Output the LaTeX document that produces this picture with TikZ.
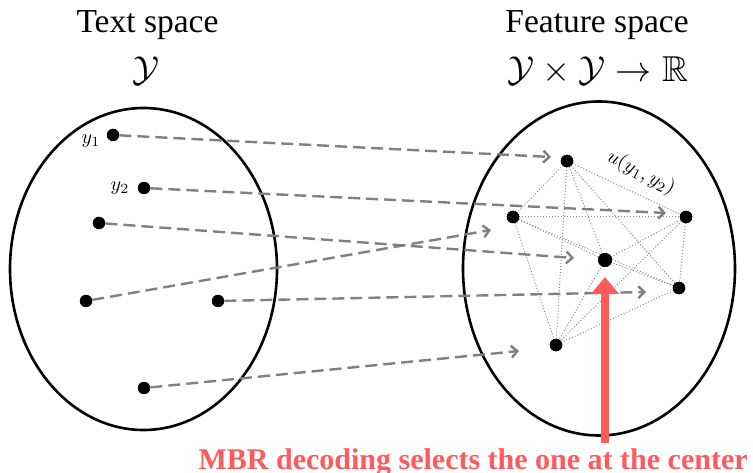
\documentclass[tikz,border=0pt]{standalone}
\usepackage{amssymb}
\usepackage{fontspec}
\setmainfont{Liberation Serif}
\usetikzlibrary{arrows.meta}
\definecolor{mbrred}{RGB}{255,90,92}
\definecolor{arrgray}{RGB}{128,128,128}
\tikzset{
  pt/.style={circle,fill=black,inner sep=0pt,minimum size=12.5pt},
  bigpt/.style={circle,fill=black,inner sep=0pt,minimum size=14pt},
  space/.style={line width=2.6pt,draw=black},
  dasharrow/.style={draw=arrgray,line width=2.4pt,dash pattern=on 12pt off 6pt,
    -{Straight Barb[length=6pt,width=12pt,line width=2.4pt]}},
  simedge/.style={draw=gray!90,line width=1pt,dotted},
  title/.style={scale=3.35,inner sep=0pt,anchor=base},
  mathtitle/.style={scale=3.6,inner sep=0pt,anchor=base},
  lab/.style={scale=2.0,inner sep=0pt},
}
\begin{document}
\begin{tikzpicture}[x=1pt,y=-1pt]
\useasboundingbox (0,0) rectangle (753,473);
% titles
\node[title] (t1) at (147.5,33) {Text space};
\node[title] (t2) at (597,33) {Feature space};
\node[mathtitle] (m1) at (146,82) {$\mathcal{Y}$};
\node[mathtitle] (m2) at (598,82) {$\mathcal{Y}\times\mathcal{Y}\to\mathbb{R}$};
% spaces
\draw[space] (143.5,269) ellipse [x radius=133.5, y radius=161];
\draw[space] (599,268.5) ellipse [x radius=136, y radius=167];
% right points
\node[pt] (r1) at (567,161) {};
\node[pt] (r2) at (513,217) {};
\node[pt] (r3) at (686,217) {};
\node[bigpt] (rc) at (605,260) {};
\node[pt] (r4) at (679,288) {};
\node[pt] (r5) at (556,345) {};
% similarity edges
\foreach \a/\b in {r1/r2,r1/r3,r1/rc,r1/r4,r1/r5,r2/r3,r2/rc,r2/r4,r2/r5,r3/rc,r3/r4,r3/r5,rc/r4,rc/r5,r4/r5}
  \draw[simedge] (\a.center) -- (\b.center);
\foreach \n in {r1,r2,r3,r4,r5} \node[pt] at (\n) {};
\node[bigpt] at (rc) {};
\node[lab,rotate=-27] (ulab) at (641,173) {$u(y_1,y_2)$};
% left points
\node[pt] (y1) at (113,135) {};
\node[pt] (y2) at (144,188) {};
\node[pt] (p3) at (99,223) {};
\node[pt] (p4) at (86,301) {};
\node[pt] (p5) at (218,301) {};
\node[pt] (p6) at (144,388) {};
\node[lab] (l1) at (91,141) {$y_1$};
\node[lab] (l2) at (120,188) {$y_2$};
% arrow ends
\coordinate (e1) at (551,157);
\coordinate (e2) at (666,213);
\coordinate (e3) at (574,258);
\coordinate (e4) at (491,230);
\coordinate (e5) at (646,292);
\coordinate (e6) at (519,351);
\draw[dasharrow] (y1) -- (e1);
\draw[dasharrow] (y2) -- (e2);
\draw[dasharrow] (p3) -- (e3);
\draw[dasharrow] (p4) -- (e4);
\draw[dasharrow] (p5) -- (e5);
\draw[dasharrow] (p6) -- (e6);
% MBR arrow
\coordinate (rb) at (605,443);
\coordinate (rt) at (605,277);
\draw[draw=mbrred,line width=7.5pt,-{Triangle[width=27pt,length=17pt]}] (rb) -- (rt);
\node[scale=3.0,inner sep=0pt,anchor=base west,text=mbrred,font=\bfseries] (cap) at (198,469) {MBR decoding selects the one at the center};
\end{tikzpicture}
\end{document}
